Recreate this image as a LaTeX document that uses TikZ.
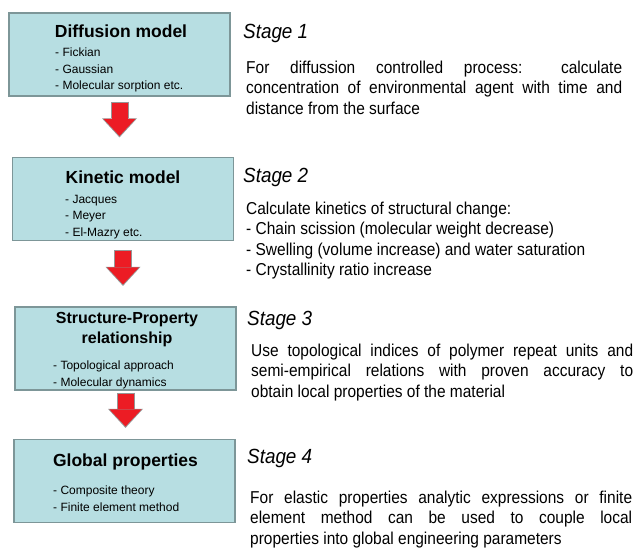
\documentclass[tikz,border=0pt]{standalone}
\usepackage{fontspec}
\setmainfont{Liberation Sans}
\newfontfamily\bodyfont[FakeStretch=0.9]{Liberation Sans}
\newfontfamily\headfont[FakeStretch=0.92]{Liberation Sans}
\usetikzlibrary{arrows.meta}
\hyphenpenalty=10000

\definecolor{boxfill}{RGB}{183,222,226}
\definecolor{boxline}{RGB}{125,150,152}
\definecolor{arrowred}{RGB}{236,28,36}
\definecolor{arrowgray}{RGB}{150,150,150}

\tikzset{
  stagebox/.style={draw=boxline, line width=1.2pt, fill=boxfill,
    minimum width=221pt, minimum height=83pt, inner sep=0pt},
  boxtitle/.style={font=\bfseries\fontsize{17.5}{20}\selectfont, inner sep=0pt, align=center},
  items/.style={font=\fontsize{12}{16.5}\selectfont, inner sep=0pt, align=left, anchor=north west},
  stagehead/.style={font=\headfont\itshape\fontsize{20.5}{23}\selectfont, inner sep=0pt, anchor=west},
  stagetext/.style={font=\bodyfont\fontsize{17.2}{20.5}\selectfont, inner sep=0pt, anchor=north west},
  justified/.style={text width=#1, align=justify},
}

\begin{document}
\begin{tikzpicture}[x=1pt, y=-1pt]
    \path[fill=white] (0,0) rectangle (639,541);
    % the four models on the left
    \node[stagebox] (diff) at (119.5,54.5) {};
    \node[stagebox] (kin) at (123,199) {};
    \node[stagebox] (sp) at (125.5,348.5) {};
    \node[stagebox] (glob) at (124.5,481) {};
    \node[boxtitle] (diff-title) at (121,31) {Diffusion model};
    \node[items] (diff-items) at (55,47.7) {- Fickian\\- Gaussian\\- Molecular sorption etc.};
    \node[boxtitle] (kin-title) at (123,177) {Kinetic model};
    \node[items] (kin-items) at (65,194.7) {- Jacques\\- Meyer\\- El-Mazry etc.};
    \node[boxtitle, font=\bfseries\fontsize{16}{20}\selectfont] (sp-title) at (127,330) {Structure-Property\\relationship};
    \node[items] (sp-items) at (53,360.7) {- Topological approach\\- Molecular dynamics};
    \node[boxtitle] (glob-title) at (125.5,462) {Global properties};
    \node[items] (glob-items) at (53,485.7) {- Composite theory\\- Finite element method};
    % red arrows, gray edge drawn first
    \foreach \a/\b/\s/\e in {diff/kin/6/21, kin/sp/10/22, sp/glob/3/12.5}{
        \pgfmathsetmacro\gA{\s-1}
        \pgfmathsetmacro\gB{\e-1.5}
        \draw[arrowgray, line width=18pt, -{Triangle[width=35pt,length=19pt,line width=0pt]},
            shorten <=\gA pt, shorten >=\gB pt] (\a.south) -- (\a.south |- \b.north);
        \draw[arrowred, line width=16pt, -{Triangle[width=32pt,length=17pt,line width=0pt]},
            shorten <=\s pt, shorten >=\e pt] (\a.south) -- (\a.south |- \b.north);
    }
    % the stages on the right
    \node[stagehead] (st1) at (243,33) {Stage 1};
    \node[stagetext, justified=376pt] (st1-text) at (246,60.8)
        {For diffussion controlled process: calculate\linebreak
         concentration of environmental agent with time and\linebreak
         distance from the surface};
    \node[stagehead] (st2) at (243,177) {Stage 2};
    \node[stagetext, align=left] (st2-text) at (246,201.8)
        {Calculate kinetics of structural change:\\
         - Chain scission (molecular weight decrease)\\
         - Swelling (volume increase) and water saturation\\
         - Crystallinity ratio increase};
    \node[stagehead] (st3) at (247,320) {Stage 3};
    \node[stagetext, justified=382pt] (st3-text) at (251,343.8)
        {Use topological indices of polymer repeat units and\linebreak
         semi-empirical relations with proven accuracy to\linebreak
         obtain local properties of the material};
    \node[stagehead] (st4) at (247,458) {Stage 4};
    \node[stagetext, justified=382pt] (st4-text) at (250,490.8)
        {For elastic properties analytic expressions or finite\linebreak
         element method can be used to couple local\linebreak
         properties into global engineering parameters};
\end{tikzpicture}
\end{document}
